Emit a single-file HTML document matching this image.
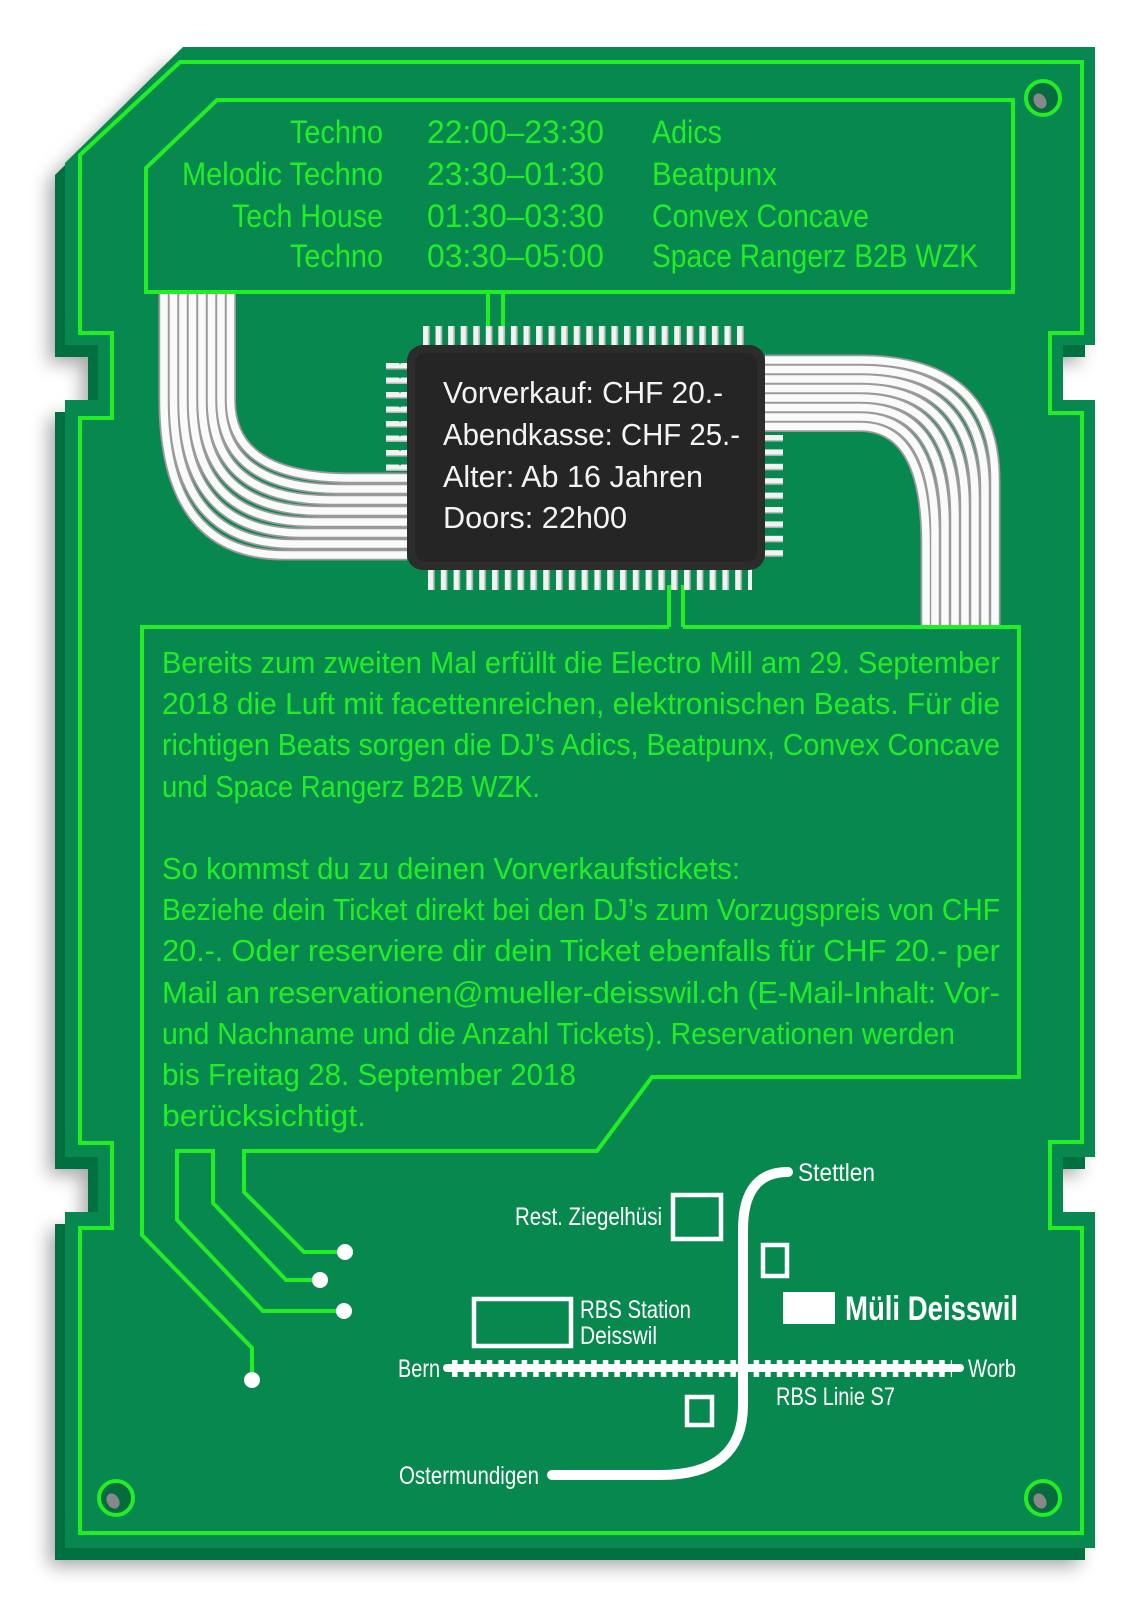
<!DOCTYPE html>
<html><head><meta charset="utf-8"><style>
html,body{margin:0;padding:0;background:#fff;}
svg{display:block;}
text{font-family:"Liberation Sans Narrow","Liberation Sans",sans-serif;}
</style></head><body>
<svg width="1135" height="1600" viewBox="0 0 1135 1600" xmlns="http://www.w3.org/2000/svg">
<defs>
<filter id="sh" x="-10%" y="-10%" width="120%" height="120%"><feDropShadow dx="-6" dy="6" stdDeviation="9" flood-color="#000" flood-opacity="0.35"/></filter>
<pattern id="pv" x="423" y="0" width="12.56" height="40" patternUnits="userSpaceOnUse"><rect x="0" y="0" width="6.5" height="40" rx="2" fill="#f2f2f2"/><rect x="5" y="0" width="1.5" height="40" fill="#bbb"/></pattern>
<pattern id="pb" x="428" y="0" width="12.8" height="40" patternUnits="userSpaceOnUse"><rect x="0" y="0" width="6.5" height="40" rx="2" fill="#f2f2f2"/><rect x="5" y="0" width="1.5" height="40" fill="#bbb"/></pattern>
<pattern id="ph" x="0" y="363" width="40" height="14.5" patternUnits="userSpaceOnUse"><rect x="0" y="0" width="40" height="6.5" rx="2" fill="#f2f2f2"/><rect x="0" y="5" width="40" height="1.5" fill="#bbb"/></pattern>
<pattern id="ph2" x="0" y="435" width="40" height="14.4" patternUnits="userSpaceOnUse"><rect x="0" y="0" width="40" height="6.5" rx="2" fill="#f2f2f2"/><rect x="0" y="5" width="40" height="1.5" fill="#bbb"/></pattern>
<pattern id="tie" x="452" y="0" width="11.6" height="40" patternUnits="userSpaceOnUse"><rect x="0" y="0" width="5.5" height="40" fill="#fff"/></pattern>
</defs>

<g filter="url(#sh)">
<polygon transform="translate(-10,12)" fill="#066f40" points="183,47 1095,47 1095,345 1063,345 1063,400 1095,400 1095,1157 1063,1157 1063,1212 1095,1212 1095,1548 65,1548 65,1212 98,1212 98,1157 65,1157 65,400 98,400 98,345 65,345 65,163"/>
</g>
<polygon fill="#07884f" points="183,47 1095,47 1095,345 1063,345 1063,400 1095,400 1095,1157 1063,1157 1063,1212 1095,1212 1095,1548 65,1548 65,1212 98,1212 98,1157 65,1157 65,400 98,400 98,345 65,345 65,163"/>

<polygon fill="none" stroke="#22ee26" stroke-width="4" points="180,62 1082,62 1082,333 1050,333 1050,413 1082,413 1082,1142 1050,1142 1050,1228 1082,1228 1082,1533 80,1533 80,1228 112,1228 112,1143 80,1143 80,418 112,418 112,333 80,333 80,155"/>

<g>
<circle cx="1043" cy="98" r="17" fill="#066b3e" stroke="#22ee26" stroke-width="4"/><ellipse cx="1040" cy="101" rx="6" ry="8" fill="#888" transform="rotate(-30 1040 101)"/>
<circle cx="116" cy="1498" r="17" fill="#066b3e" stroke="#22ee26" stroke-width="4"/><ellipse cx="113" cy="1501" rx="6" ry="8" fill="#888" transform="rotate(-30 113 1501)"/>
<circle cx="1043" cy="1498" r="17" fill="#066b3e" stroke="#22ee26" stroke-width="4"/><ellipse cx="1040" cy="1501" rx="6" ry="8" fill="#888" transform="rotate(-30 1040 1501)"/>
</g>

<g fill="none" stroke-linecap="butt">
<g stroke="#9a9a9a" stroke-width="11">
<path d="M164,292 L164,400 Q164,555 284,555 L407,555"/>
<path d="M173.5,292 L173.5,400 Q173.5,544 293,544 L407,544"/>
<path d="M183,292 L183,400 Q183,533 303,533 L407,533"/>
<path d="M192.5,292 L192.5,400 Q192.5,522 312,522 L407,522"/>
<path d="M202,292 L202,400 Q202,511 322,511 L407,511"/>
<path d="M211.5,292 L211.5,400 Q211.5,500 331,500 L407,500"/>
<path d="M221,292 L221,400 Q221,489 341,489 L407,489"/>
<path d="M230.5,292 L230.5,400 Q230.5,478 350,478 L407,478"/>
</g>
<g stroke="#fafafa" stroke-width="7.5">
<path d="M164,292 L164,400 Q164,555 284,555 L407,555"/>
<path d="M173.5,292 L173.5,400 Q173.5,544 293,544 L407,544"/>
<path d="M183,292 L183,400 Q183,533 303,533 L407,533"/>
<path d="M192.5,292 L192.5,400 Q192.5,522 312,522 L407,522"/>
<path d="M202,292 L202,400 Q202,511 322,511 L407,511"/>
<path d="M211.5,292 L211.5,400 Q211.5,500 331,500 L407,500"/>
<path d="M221,292 L221,400 Q221,489 341,489 L407,489"/>
<path d="M230.5,292 L230.5,400 Q230.5,478 350,478 L407,478"/>
</g>
</g>

<g fill="none">
<g stroke="#9a9a9a" stroke-width="11">
<path d="M765,360 L860,360 Q995,360 995,480 L995,626"/>
<path d="M765,369.5 L860,369.5 Q985,369.5 985,489 L985,626"/>
<path d="M765,379 L860,379 Q975,379 975,498 L975,626"/>
<path d="M765,388.5 L860,388.5 Q965,388.5 965,507 L965,626"/>
<path d="M765,398 L860,398 Q955,398 955,516 L955,626"/>
<path d="M765,407.5 L860,407.5 Q945,407.5 945,525 L945,626"/>
<path d="M765,417 L860,417 Q935,417 935,534 L935,626"/>
<path d="M765,426.5 L860,426.5 Q926,426.5 926,543 L926,626"/>
</g>
<g stroke="#fafafa" stroke-width="7.5">
<path d="M765,360 L860,360 Q995,360 995,480 L995,626"/>
<path d="M765,369.5 L860,369.5 Q985,369.5 985,489 L985,626"/>
<path d="M765,379 L860,379 Q975,379 975,498 L975,626"/>
<path d="M765,388.5 L860,388.5 Q965,388.5 965,507 L965,626"/>
<path d="M765,398 L860,398 Q955,398 955,516 L955,626"/>
<path d="M765,407.5 L860,407.5 Q945,407.5 945,525 L945,626"/>
<path d="M765,417 L860,417 Q935,417 935,534 L935,626"/>
<path d="M765,426.5 L860,426.5 Q926,426.5 926,543 L926,626"/>
</g>
</g>

<polygon fill="#07884f" stroke="#22ee26" stroke-width="4" points="217,100 1013,100 1013,292 146,292 146,168"/>
<g fill="#22ee26" font-size="32">
<text x="290" y="143" textLength="93" lengthAdjust="spacingAndGlyphs">Techno</text>
<text x="182" y="185" textLength="201" lengthAdjust="spacingAndGlyphs">Melodic Techno</text>
<text x="232" y="227" textLength="151" lengthAdjust="spacingAndGlyphs">Tech House</text>
<text x="290" y="267" textLength="93" lengthAdjust="spacingAndGlyphs">Techno</text>
<text x="427" y="143" textLength="177" lengthAdjust="spacingAndGlyphs">22:00–23:30</text>
<text x="427" y="185" textLength="177" lengthAdjust="spacingAndGlyphs">23:30–01:30</text>
<text x="427" y="227" textLength="177" lengthAdjust="spacingAndGlyphs">01:30–03:30</text>
<text x="427" y="267" textLength="177" lengthAdjust="spacingAndGlyphs">03:30–05:00</text>
<text x="652" y="143" textLength="70" lengthAdjust="spacingAndGlyphs">Adics</text>
<text x="652" y="185" textLength="125" lengthAdjust="spacingAndGlyphs">Beatpunx</text>
<text x="652" y="227" textLength="217" lengthAdjust="spacingAndGlyphs">Convex Concave</text>
<text x="652" y="267" textLength="326" lengthAdjust="spacingAndGlyphs">Space Rangerz B2B WZK</text>
</g>

<g stroke="#22ee26" stroke-width="4">
<line x1="488" y1="292" x2="488" y2="337"/><line x1="503" y1="292" x2="503" y2="337"/>
<line x1="669" y1="585" x2="669" y2="627"/><line x1="683" y1="585" x2="683" y2="627"/>
</g>

<rect x="423" y="326" width="322" height="22" fill="url(#pv)"/>
<rect x="428" y="566" width="324" height="24" fill="url(#pb)"/>
<rect x="386" y="363" width="25" height="110" fill="url(#ph)"/>
<rect x="760" y="435" width="23" height="122" fill="url(#ph2)"/>
<rect x="407" y="345" width="358" height="225" rx="16" fill="#2c2c2c"/>
<rect x="415" y="353" width="342" height="209" rx="10" fill="#252525"/>
<g fill="#f4f4f4" font-size="31">
<text x="443" y="403" textLength="280" lengthAdjust="spacingAndGlyphs">Vorverkauf: CHF 20.-</text>
<text x="443" y="445" textLength="297" lengthAdjust="spacingAndGlyphs">Abendkasse: CHF 25.-</text>
<text x="443" y="487" textLength="260" lengthAdjust="spacingAndGlyphs">Alter: Ab 16 Jahren</text>
<text x="443" y="528" textLength="184" lengthAdjust="spacingAndGlyphs">Doors: 22h00</text>
</g>

<polyline fill="none" stroke="#22ee26" stroke-width="4" points="669,627 142,627 142,1235 252,1348 252,1380"/>
<polyline fill="none" stroke="#22ee26" stroke-width="4" points="683,627 1019,627 1019,1077 652,1077 597,1151 244,1151 244,1192 304,1252 345,1252"/>
<polyline fill="none" stroke="#22ee26" stroke-width="4" points="320,1280 286,1280 213,1203 213,1151 177,1151 177,1220 263,1311 344,1311"/>
<g fill="#fff">
<circle cx="252" cy="1380" r="8"/><circle cx="345" cy="1252" r="8"/><circle cx="320" cy="1280" r="8"/><circle cx="344" cy="1311" r="8"/>
</g>
<g fill="#22ee26" font-size="31">
<text x="162" y="673" textLength="838" lengthAdjust="spacingAndGlyphs">Bereits zum zweiten Mal erfüllt die Electro Mill am 29. September</text>
<text x="162" y="714" textLength="838" lengthAdjust="spacingAndGlyphs">2018 die Luft mit facettenreichen, elektronischen Beats. Für die</text>
<text x="162" y="755" textLength="838" lengthAdjust="spacingAndGlyphs">richtigen Beats sorgen die DJ’s Adics, Beatpunx, Convex Concave</text>
<text x="162" y="797" textLength="378" lengthAdjust="spacingAndGlyphs">und Space Rangerz B2B WZK.</text>
<text x="162" y="879" textLength="578" lengthAdjust="spacingAndGlyphs">So kommst du zu deinen Vorverkaufstickets:</text>
<text x="162" y="920" textLength="838" lengthAdjust="spacingAndGlyphs">Beziehe dein Ticket direkt bei den DJ’s zum Vorzugspreis von CHF</text>
<text x="162" y="961" textLength="838" lengthAdjust="spacing">20.-. Oder reserviere dir dein Ticket ebenfalls für CHF 20.- per</text>
<text x="162" y="1003" textLength="838" lengthAdjust="spacing">Mail an reservationen@mueller-deisswil.ch (E-Mail-Inhalt: Vor-</text>
<text x="162" y="1044" textLength="793" lengthAdjust="spacingAndGlyphs">und Nachname und die Anzahl Tickets). Reservationen werden</text>
<text x="162" y="1085" textLength="414" lengthAdjust="spacingAndGlyphs">bis Freitag 28. September 2018</text>
<text x="162" y="1126" textLength="204" lengthAdjust="spacingAndGlyphs">berücksichtigt.</text>
</g>

<path d="M788,1172 Q743,1172 743,1230 L743,1405 Q743,1475 660,1475 L552,1475" fill="none" stroke="#fff" stroke-width="10" stroke-linecap="round"/>
<line x1="447" y1="1368" x2="960" y2="1368" stroke="#fff" stroke-width="8" stroke-linecap="round"/>
<rect x="452" y="1360" width="500" height="17" fill="url(#tie)"/>
<g fill="none" stroke="#fff" stroke-width="4.5">
<rect x="673" y="1195" width="48" height="44"/>
<rect x="763" y="1245" width="24" height="31"/>
<rect x="474" y="1299" width="97" height="47"/>
<rect x="687" y="1397" width="25" height="28"/>
</g>
<rect x="783" y="1292" width="52" height="32" fill="#fff"/>
<g fill="#fff" font-size="25">
<text x="798" y="1181" textLength="77" lengthAdjust="spacingAndGlyphs">Stettlen</text>
<text x="515" y="1225" textLength="147" lengthAdjust="spacingAndGlyphs">Rest. Ziegelhüsi</text>
<text x="580" y="1318" textLength="111" lengthAdjust="spacingAndGlyphs">RBS Station</text>
<text x="580" y="1344" textLength="77" lengthAdjust="spacingAndGlyphs">Deisswil</text>
<text x="398" y="1377" textLength="42" lengthAdjust="spacingAndGlyphs">Bern</text>
<text x="968" y="1377" textLength="48" lengthAdjust="spacingAndGlyphs">Worb</text>
<text x="776" y="1405" textLength="119" lengthAdjust="spacingAndGlyphs">RBS Linie S7</text>
<text x="399" y="1484" textLength="140" lengthAdjust="spacingAndGlyphs">Ostermundigen</text>
<text x="845" y="1320" font-size="34" font-weight="bold" textLength="173" lengthAdjust="spacingAndGlyphs">Müli Deisswil</text>
</g>
</svg>
</body></html>
